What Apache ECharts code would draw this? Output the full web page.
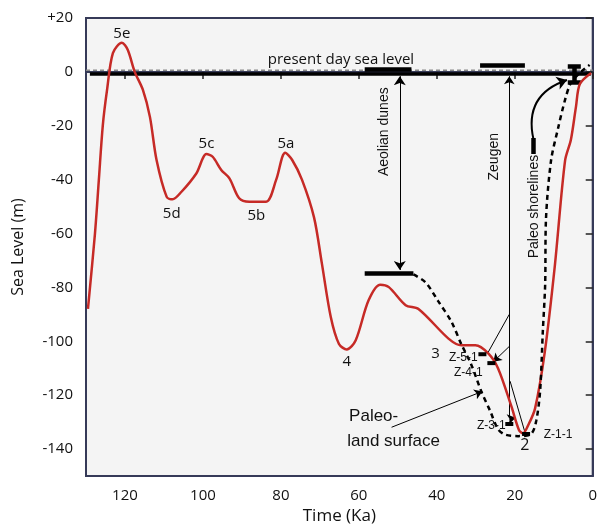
<!DOCTYPE html>
<html>
<head>
<meta charset="utf-8">
<script src="https://cdn.jsdelivr.net/npm/echarts@6/dist/echarts.min.js"></script>
<style>
  html, body { margin: 0; padding: 0; background: #fff; }
  #main { width: 600px; height: 530px; }
</style>
</head>
<body>
<div id="main"></div>
<script>
// sea level curve [time Ka, level m]
var seaLevel = [[129.5,-88],[127.7,-60],[126.7,-40],[125.7,-20],[124.6,-6.7],[123.1,7],[120.8,10.8],[119.3,8.2],[117.5,0],[115.4,-6.7],[113.6,-16.7],[111.9,-32.7],[109.3,-46.4],[107.8,-47.3],[105.5,-44.5],[101.7,-37.7],[99.1,-30.5],[97.5,-31.5],[95.3,-36.4],[93.2,-39.5],[90.7,-46.9],[88.1,-48.2],[83.8,-48.2],[81.2,-40],[78.9,-30],[77.1,-32.7],[74.6,-40],[71.5,-54],[69.5,-71],[67.2,-91],[65.1,-101],[63.1,-103],[60.8,-99.6],[57.5,-84.8],[54.5,-79],[52.3,-79.9],[48,-86.6],[44.7,-88],[37,-99],[33.7,-101.5],[30.1,-101.5],[26.8,-104.5],[24.3,-110],[20.9,-124],[18.9,-133],[17.9,-134.2],[16.5,-131],[14.8,-125],[12.3,-104],[9.7,-71.7],[7.1,-33],[5.6,-25.2],[4.3,-13],[3.3,-4.5],[0.4,-0.4]];
// paleo land surface (dashed)
var landSurface = [[46,-75.2],[42.9,-78.1],[39.6,-85.2],[36.3,-92.6],[33.7,-101.1],[31.2,-108.5],[28.6,-118.5],[26.3,-125.9],[24.3,-132.6],[22.5,-134.6],[19.1,-135.2],[15.8,-134.4],[14.5,-129.6],[13.5,-118.5],[12.8,-96.3],[12.2,-78.9],[12.0,-55],[10.7,-33],[8.9,-21],[7.1,-10.4],[5.6,-4.1],[3.3,-0.4],[0.8,2.6]];
var presentDay = [[130,0.6],[0,0.6]];
var presentSolid = [[129,-0.8],[0.5,-0.8]];
var thickBars = [
  [[58.5,1.1],[46.5,1.1]],
  [[28.9,2.6],[17.4,2.6]],
  [[58.5,-74.8],[46,-74.8]],
  [[6.4,2.2],[3.05,2.2]],
  [[6.4,-3.7],[3.05,-3.7]],
  [[4.8,2.2],[4.8,-3.7]],
  [[15.2,-24.5],[15.2,-30.5]]
];
var thinLines = [
  [[21.4,-90],[26.8,-104]],
  [[21.2,-114.8],[17.4,-133.7]]
];
var arrowsOneWay = [
  [[21.4,-127.8],[21.4,-1.6]],
  [[21.4,-101.9],[25.5,-107.6]],
  [[21.4,-128.9],[19.8,-128.4]],
  [[51.6,-131.9],[28.3,-118.6]]
];
var arrowsTwoWay = [
  [[49.5,-1.6],[49.5,-73.5]]
];
var shoreArrow = [[15.2,-25],[6.6,-3.0]];
var sampleMarks = [[28.3,-104.8],[26,-108.1],[21.4,-130.7],[17.1,-134.4]];
var yTicks = [20,0,-20,-40,-60,-80,-100,-120,-140];
var xTicks = [120,100,80,60,40,20,0];
// annotation text [x, y, text, fontSize, rotate, family]
var notes = [
  [120.8,14.2,'5e',15,0,'Open Sans'],
  [99.1,-26.5,'5c',15,0,'Open Sans'],
  [78.7,-26.5,'5a',15,0,'Open Sans'],
  [108,-52.5,'5d',15,0,'Open Sans'],
  [86.3,-53.5,'5b',15,0,'Open Sans'],
  [63.1,-107.5,'4',15,0,'Open Sans'],
  [40.3,-104.8,'3',15,0,'Open Sans'],
  [17.4,-138.8,'2',16,0,'Open Sans'],
  [64.6,4.4,'present day sea level',15,0,'Open Sans'],
  [53.6,-22.2,'Aeolian dunes',14,90,'Liberation Sans'],
  [25.2,-31.5,'Zeugen',14,90,'Liberation Sans'],
  [14.9,-50,'Paleo shorelines',14,90,'Liberation Sans'],
  [56.2,-128,'Paleo-',17,0,'Liberation Sans'],
  [51.1,-137,'land surface',17,0,'Liberation Sans'],
  [33.2,-106,'Z-5-1',12,0,'Liberation Sans'],
  [31.9,-111.5,'Z-4-1',12,0,'Liberation Sans'],
  [26,-131.5,'Z-3-1',12,0,'Liberation Sans'],
  [8.9,-134.8,'Z-1-1',12,0,'Liberation Sans']
];

var chart = echarts.init(document.getElementById('main'));
var axisColor = '#363a58';
var option = {
  animation: false,
  grid: {
    left: 86, right: 4, top: 18, bottom: 53,
    show: true, backgroundColor: '#f4f4f4', borderColor: axisColor, borderWidth: 2
  },
  xAxis: {
    type: 'value', min: 0, max: 130, inverse: true,
    name: 'Time (Ka)', nameLocation: 'middle', nameGap: 32,
    nameTextStyle: { fontSize: 17, color: '#111', fontFamily: 'Open Sans' },
    axisLine: { lineStyle: { color: axisColor, width: 2 } },
    axisTick: { show: true, length: 7, customValues: xTicks, lineStyle: { color: '#222', width: 1.5 } },
    axisLabel: { customValues: xTicks, fontSize: 15, color: '#111', fontFamily: 'Open Sans', margin: 12 },
    splitLine: { show: false }
  },
  yAxis: {
    type: 'value', min: -150, max: 20,
    name: 'Sea Level (m)', nameLocation: 'middle', nameGap: 60, nameRotate: 90,
    nameTextStyle: { fontSize: 16, color: '#111', fontFamily: 'Open Sans' },
    axisLine: { show: true, lineStyle: { color: axisColor, width: 2 } },
    axisTick: { show: true, length: 7, customValues: yTicks, lineStyle: { color: '#222', width: 1.5 } },
    axisLabel: {
      customValues: yTicks, fontSize: 15, color: '#111', fontFamily: 'Open Sans', margin: 13,
      formatter: function (v) { return v > 0 ? '+' + v : String(v); }
    },
    splitLine: { show: false }
  },
  series: [
    { type: 'line', data: presentDay, symbol: 'none', z: 2,
      lineStyle: { color: '#8a8a8a', width: 1.5, type: [4, 3] } },
    { type: 'line', data: presentSolid, symbol: 'none', z: 3,
      lineStyle: { color: '#000', width: 3.5 } },
    { type: 'lines', coordinateSystem: 'cartesian2d', z: 4,
      data: thickBars.map(function (c) { return { coords: c }; }),
      lineStyle: { color: '#000', width: 4.5, opacity: 1 } },
    { type: 'lines', coordinateSystem: 'cartesian2d', z: 4,
      data: thinLines.map(function (c) { return { coords: c }; }),
      lineStyle: { color: '#000', width: 1, opacity: 1 } },
    { type: 'lines', coordinateSystem: 'cartesian2d', z: 4,
      symbol: ['none', 'arrow'], symbolSize: 8,
      data: arrowsOneWay.map(function (c) { return { coords: c }; }),
      lineStyle: { color: '#000', width: 1, opacity: 1 } },
    { type: 'lines', coordinateSystem: 'cartesian2d', z: 4,
      symbol: ['arrow', 'arrow'], symbolSize: 9,
      data: arrowsTwoWay.map(function (c) { return { coords: c }; }),
      lineStyle: { color: '#000', width: 1, opacity: 1 } },
    { type: 'lines', coordinateSystem: 'cartesian2d', z: 4,
      symbol: ['none', 'arrow'], symbolSize: 10,
      data: [{ coords: shoreArrow }],
      lineStyle: { color: '#000', width: 2, opacity: 1, curveness: 0.45 } },
    { type: 'line', data: seaLevel, symbol: 'none', smooth: 0.3, z: 5,
      lineStyle: { color: '#c62a26', width: 2.5 } },
    { type: 'line', data: landSurface, symbol: 'none', smooth: 0.3, z: 6,
      lineStyle: { color: '#000', width: 2.5, type: [5, 4] } },
    { type: 'scatter', data: sampleMarks, symbol: 'rect', symbolSize: [8, 4], z: 7,
      itemStyle: { color: '#000', opacity: 1 } },
    { type: 'scatter', z: 8, symbolSize: 0, silent: true,
      itemStyle: { color: 'rgba(0,0,0,0)', opacity: 1 },
      data: notes.map(function (n) {
        return {
          value: [n[0], n[1]],
          label: {
            show: true, position: 'inside', formatter: n[2], rotate: n[4],
            fontSize: n[3], fontFamily: n[5], color: '#111',
            textBorderWidth: 0, textBorderColor: 'transparent'
          }
        };
      })
    }
  ]
};
chart.setOption(option);
</script>
</body>
</html>
